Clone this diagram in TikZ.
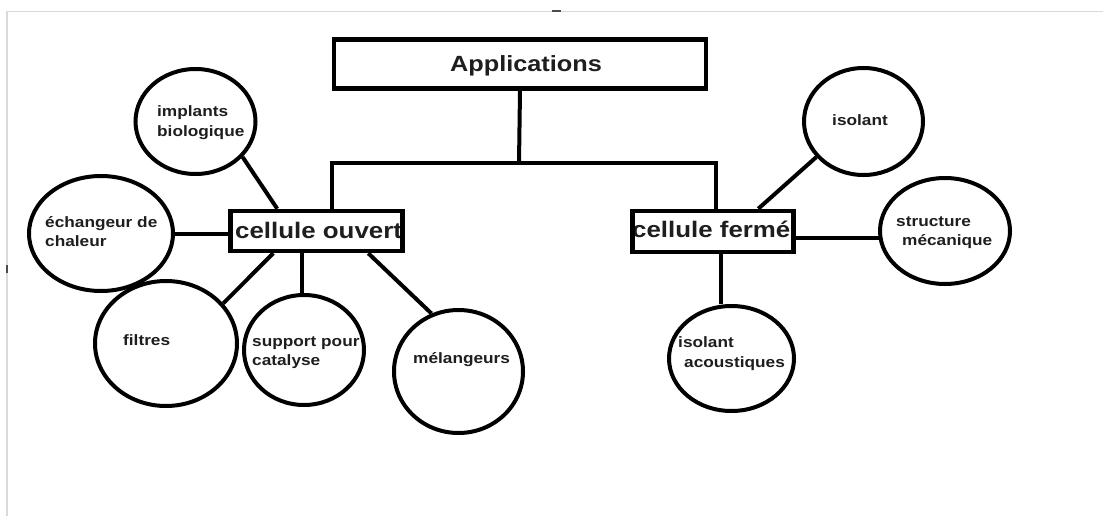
\documentclass[tikz,border=0pt]{standalone}
\usepackage{fontspec}
\setmainfont{Liberation Sans}[FakeStretch=1.15]
\usetikzlibrary{shapes.geometric}
\definecolor{txt}{HTML}{1E1E1E}
\definecolor{framegray}{HTML}{DADADA}
\begin{document}
\begin{tikzpicture}[x=1pt,y=-1pt,
  ln/.style={line width=4pt, black},
  boxnode/.style={draw, rectangle, line width=4.5pt, inner sep=0pt},
  bub/.style={draw, ellipse, line width=4pt, inner sep=0pt},
  lbl/.style={anchor=base west, inner sep=0pt, text=txt, font=\bfseries\fontsize{15}{15}\selectfont},
  big/.style={lbl, font=\bfseries\fontsize{22.5}{22.5}\selectfont}]
\fill[white] (0,0) rectangle (1103,516);
\useasboundingbox (0,0) rectangle (1103,516);
% screenshot frame remnants
\draw[framegray, line width=1.5pt] (1103,11.5) -- (7,11.5) -- (7,516);
\draw[gray!60!black, line width=1.5pt] (7,265) -- (7,273);
\draw[gray!60!black, line width=2pt] (552,11) -- (561,11);

% texts of the boxes (drawn under the box borders)
\node[big, anchor=base, font=\bfseries\fontsize{22}{22}\selectfont] (tapp) at (526,72) {Applications};
\node[big] (tco) at (235,238) {cellule ouvert};
\node[big] (tcf) at (632,237) {cellule fermé};

% boxes
\node[boxnode, minimum width=372pt, minimum height=49pt] (app) at (520,64) {};
\node[boxnode, minimum width=172pt, minimum height=40pt] (co) at (316.5,231) {};
\node[boxnode, minimum width=161pt, minimum height=41pt] (cf) at (713,231.5) {};

% bubbles
\node[bub, minimum width=120pt, minimum height=105pt] (impl) at (195.5,121.5) {};
\node[bub, minimum width=144pt, minimum height=115pt] (ech)  at (101,233.5) {};
\node[bub, minimum width=142pt, minimum height=125pt] (filt) at (166,343.5) {};
\node[bub, minimum width=120pt, minimum height=110pt] (supp) at (304,350) {};
\node[bub, minimum width=129pt, minimum height=123pt] (mel)  at (458.5,371.5) {};
\node[bub, minimum width=119pt, minimum height=107pt] (iso)  at (863.5,121.5) {};
\node[bub, minimum width=130pt, minimum height=106pt] (stru) at (945,231) {};
\node[bub, minimum width=125pt, minimum height=105pt] (acou) at (731.5,358.5) {};

% bubble texts
\node[lbl] (t1a) at (157,117) {implants};
\node[lbl] (t1b) at (157,137) {biologique};
\node[lbl] (t2a) at (45,227) {échangeur de};
\node[lbl] (t2b) at (45,246) {chaleur};
\node[lbl] (t3)  at (123,345) {filtres};
\node[lbl] (t4a) at (252,346) {support pour};
\node[lbl] (t4b) at (252,365) {catalyse};
\node[lbl] (t5)  at (413,363) {mélangeurs};
\node[lbl] (t6)  at (832,126) {isolant};
\node[lbl] (t7a) at (896,226) {structure};
\node[lbl] (t7b) at (902,245) {mécanique};
\node[lbl] (t8a) at (678,347) {isolant};
\node[lbl] (t8b) at (684,367) {acoustiques};

% tree connectors
\coordinate (j) at (519,163);
\draw[ln] (app.south) -- (j);
\draw[ln] (j) -| ([xshift=15.5pt]co.north);
\draw[ln] (j) -| ([xshift=3pt]cf.north);

% open-cell connectors
\draw[ln] (impl.-37.5) -- ([xshift=49pt]co.north west);
\draw[ln] (ech.east) -- (ech.east -| co.west);
\draw[ln] (filt.35) -- ([xshift=45pt]co.south west);
\draw[ln] ([xshift=-2pt]supp.north) -- ([xshift=-2pt]supp.north |- co.south);
\draw[ln] (mel.115.6) -- ([xshift=140pt]co.south west);

% closed-cell connectors
\draw[ln] (iso.217.7) -- ([xshift=128pt]cf.north west);
\draw[ln] (stru.186.4) -- (stru.186.4 -| cf.east);
\draw[ln] ([xshift=8pt]cf.south) -- ([xshift=8pt]cf.south |- acou.north);
\end{tikzpicture}
\end{document}
